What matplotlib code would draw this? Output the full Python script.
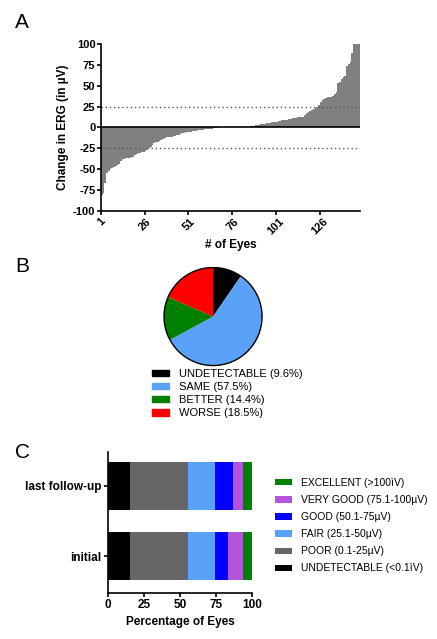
import numpy as np
import matplotlib.pyplot as plt
from matplotlib.patches import Patch, Circle

plt.rcParams['font.family'] = ['Liberation Sans', 'DejaVu Sans']
plt.rcParams['axes.unicode_minus'] = False

# ---- panel A: change in ERG per eye (sorted)
neg = [-81, -79, -67, -55, -52, -50, -49, -47, -46, -45, -44, -40,
       -38, -38, -37, -37, -36, -35, -35, -33, -32, -31, -31,
       -30, -29, -28, -27, -25, -24, -21, -19, -18, -17, -16,
       -15, -14, -13, -12, -12, -11, -11, -10, -10, -9, -9, -8,
       -7, -7, -6, -6, -5, -5, -4, -4, -4, -3, -3,
       -3, -3, -2, -2, -2, -2, -1.5, -1, -1, -0.5]
zero = [0] * 17
pos = [1, 1.5, 2, 2, 2.5, 3, 3, 4, 4, 4.5, 5, 5, 5.5,
       6, 6.5, 7, 7, 7.5, 8, 8.5, 9, 9, 9.5, 10, 10,
       11, 11, 11.5, 12, 12, 12.5, 13, 15, 17, 19, 20, 21, 22,
       23, 24, 27, 30, 33, 34, 35, 36, 36, 37, 38, 40, 42,
       53, 55, 58, 60, 62, 74, 76, 78, 89, 100, 100, 100, 100]
erg_change = neg + zero + pos
eyes = np.arange(1, len(erg_change) + 1)

# ---- panel B
pie_labels = ["UNDETECTABLE (9.6%)", "SAME (57.5%)", "BETTER (14.4%)", "WORSE (18.5%)"]
pie_vals = [9.6, 57.5, 14.4, 18.5]
pie_colors = ["black", "#5aa2f7", "#008000", "#ff0000"]

# ---- panel C
groups = ["initial", "last follow-up"]
cat_labels = ["UNDETECTABLE (<0.1ìV)", "POOR (0.1-25µV)", "FAIR (25.1-50µV)",
              "GOOD (50.1-75µV)", "VERY GOOD (75.1-100µV)", "EXCELLENT (>100ìV)"]
initial = [15.1, 40.2, 18.9, 9.2, 10.4, 6.2]
last_fu = [15.1, 40.5, 18.5, 12.2, 7.4, 6.3]
cat_colors = ["black", "#666666", "#5aa2f7", "#0000ff", "#b454dc", "#008000"]

fig = plt.figure(figsize=(4.37, 6.39), dpi=100)

# A
ax = fig.add_axes([0.231, 0.670, 0.593, 0.261])
ax.bar(eyes, erg_change, width=1, align="edge", color="#808080", linewidth=0)
ax.axhline(0, color="black", lw=1.2)
ax.axhline(25, color="#555555", lw=1, ls=(0, (1, 2)))
ax.axhline(-25, color="#555555", lw=1, ls=(0, (1, 2)))
ax.set_xlim(1, len(eyes) + 1)
ax.set_ylim(-100, 100)
ax.set_yticks(np.arange(-100, 101, 25))
ax.set_xticks([1, 26, 51, 76, 101, 126])
ax.set_xticklabels(["1", "26", "51", "76", "101", "126"], rotation=45, fontweight="bold", fontsize=8)
for t in ax.get_yticklabels():
    t.set_fontweight("bold")
    t.set_fontsize(8)
ax.spines["top"].set_visible(False)
ax.spines["right"].set_visible(False)
ax.spines["left"].set_linewidth(1.2)
ax.spines["bottom"].set_linewidth(1.2)
ax.tick_params(width=1.2, length=3, pad=1)
ax.set_ylabel("Change in ERG (in µV)", fontweight="bold", fontsize=8.5, labelpad=3)
ax.set_xlabel("# of Eyes", fontweight="bold", fontsize=8.5, labelpad=2)

# B
axp = fig.add_axes([0.373, 0.4264, 0.229, 0.1565])
axp.pie(pie_vals, colors=pie_colors, startangle=90, counterclock=False,
        wedgeprops=dict(linewidth=0))
axp.add_patch(Circle((0, 0), 1, fill=False, edgecolor="black", lw=1))
axp.set_xlim(-1.02, 1.02)
axp.set_ylim(-1.02, 1.02)
axp.set_aspect("equal")
axp.axis("off")
fig.legend(handles=[Patch(color=c, label=l) for c, l in zip(pie_colors, pie_labels)],
           loc="upper left", bbox_to_anchor=(152 / 437, 1 - 369 / 639), frameon=False,
           fontsize=8, handlelength=1.55, handleheight=0.5, handletextpad=0.9,
           labelspacing=0.28, borderpad=0, borderaxespad=0)

# C
axc = fig.add_axes([0.2465, 0.0725, 0.331, 0.2206])
left = np.zeros(2)
for i in range(len(cat_labels)):
    vals = np.array([initial[i], last_fu[i]])
    axc.barh([0, 1], vals, left=left, height=0.685, color=cat_colors[i], label=cat_labels[i], linewidth=0)
    left += vals
axc.set_xlim(0, 100)
axc.set_ylim(-0.523, 1.489)
axc.set_xticks([0, 25, 50, 75, 100])
axc.set_yticks([0, 1])
axc.set_yticklabels(groups, fontweight="bold", fontsize=8.5)
for t in axc.get_xticklabels():
    t.set_fontweight("bold")
    t.set_fontsize(8.5)
axc.spines["top"].set_visible(False)
axc.spines["right"].set_visible(False)
axc.spines["left"].set_linewidth(1.2)
axc.spines["bottom"].set_linewidth(1.2)
axc.tick_params(width=1.2, length=3, pad=1.5)
axc.set_xlabel("Percentage of Eyes", fontweight="bold", fontsize=8.5, labelpad=4)
h, l = axc.get_legend_handles_labels()
fig.legend(h[::-1], l[::-1], loc="upper left", bbox_to_anchor=(275 / 437, 1 - 478 / 639),
           frameon=False, fontsize=7.5, handlelength=1.65, handleheight=0.55,
           handletextpad=0.8, labelspacing=0.68, borderpad=0, borderaxespad=0)

fig.text(15 / 437, 1 - 28 / 639, "A", fontsize=15)
fig.text(15 / 437, 1 - 272 / 639, "B", fontsize=15)
fig.text(15 / 437, 1 - 458 / 639, "C", fontsize=15)

fig.savefig("out.png", dpi=100)
